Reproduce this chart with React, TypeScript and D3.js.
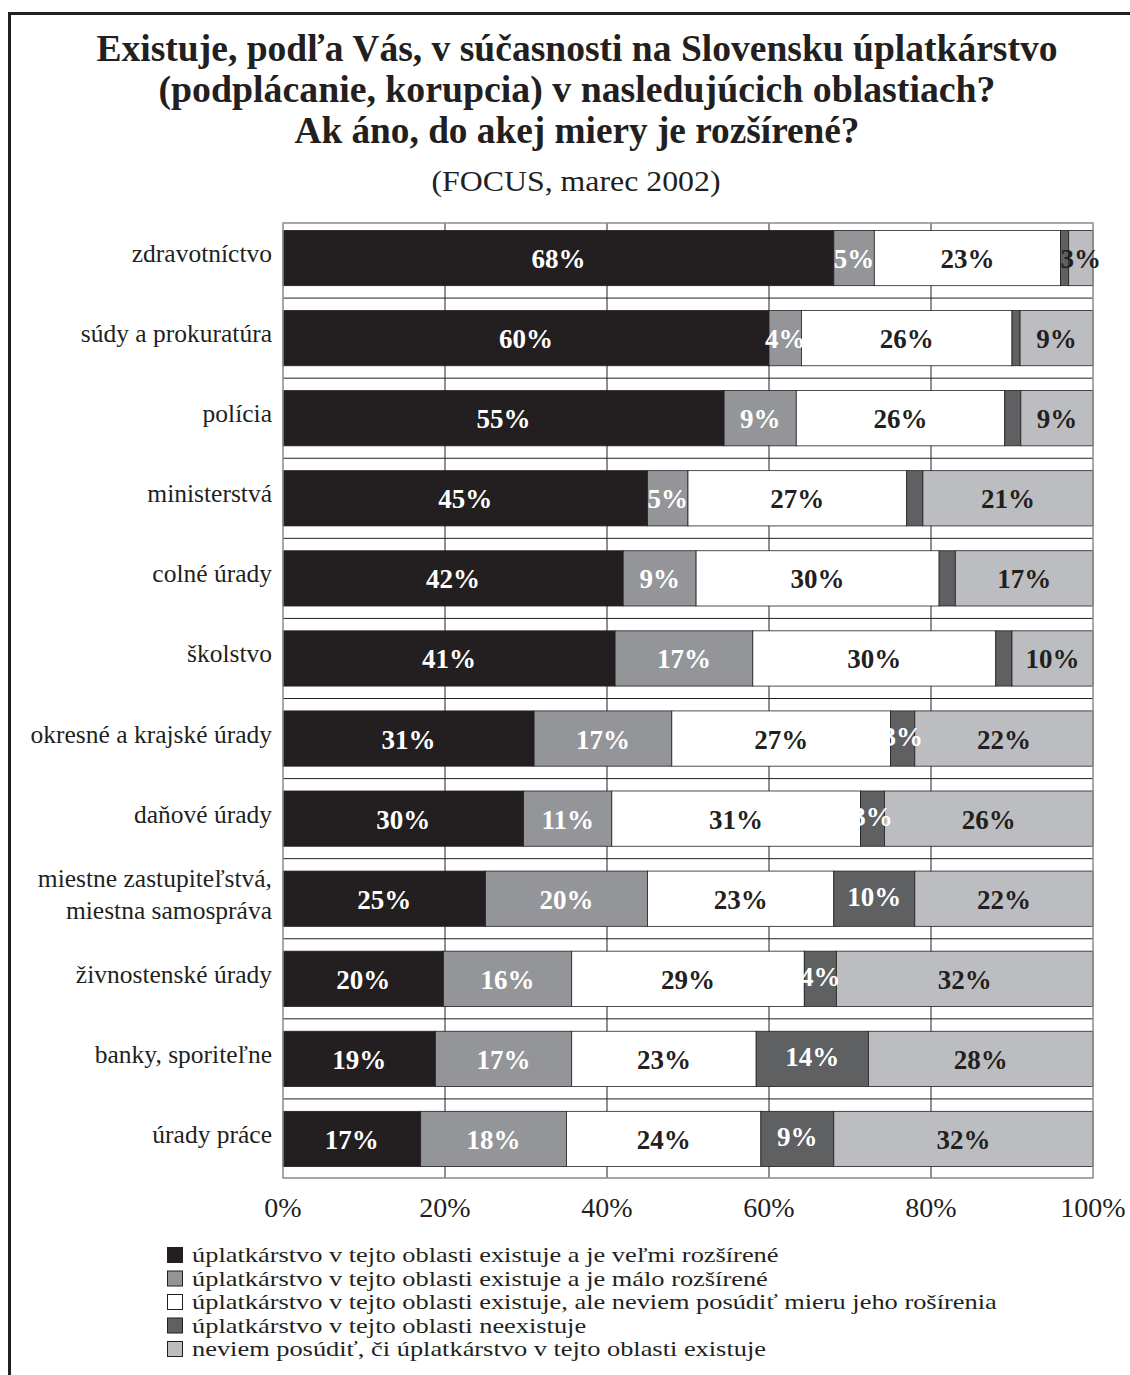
import React from "react";
import * as d3 from "d3";

const titleLines = [
  "Existuje, podľa Vás, v súčasnosti na Slovensku úplatkárstvo",
  "(podplácanie, korupcia) v nasledujúcich oblastiach?",
  "Ak áno, do akej miery je rozšírené?",
];
const subtitle = "(FOCUS, marec 2002)";

const categories = [
  "zdravotníctvo",
  "súdy a prokuratúra",
  "polícia",
  "ministerstvá",
  "colné úrady",
  "školstvo",
  "okresné a krajské úrady",
  "daňové úrady",
  "miestne zastupiteľstvá,\nmiestna samospráva",
  "živnostenské úrady",
  "banky, sporiteľne",
  "úrady práce",
];

const seriesNames = [
  "úplatkárstvo v tejto oblasti existuje a je veľmi rozšírené",
  "úplatkárstvo v tejto oblasti existuje a je málo rozšírené",
  "úplatkárstvo v tejto oblasti existuje, ale neviem posúdiť mieru jeho rošírenia",
  "úplatkárstvo v tejto oblasti neexistuje",
  "neviem posúdiť, či úplatkárstvo v tejto oblasti existuje",
];

const velmiRozsirene = [68, 60, 55, 45, 42, 41, 31, 30, 25, 20, 19, 17];
const maloRozsirene = [5, 4, 9, 5, 9, 17, 17, 11, 20, 16, 17, 18];
const neviemMieru = [23, 26, 26, 27, 30, 30, 27, 31, 23, 29, 23, 24];
const neexistuje = [1, 1, 2, 2, 2, 2, 3, 3, 10, 4, 14, 9];
const neviemCi = [3, 9, 9, 21, 17, 10, 22, 26, 22, 32, 28, 32];

const seriesValues = [velmiRozsirene, maloRozsirene, neviemMieru, neexistuje, neviemCi];

const fills = ["#231f20", "#939598", "#ffffff", "#5f6062", "#bcbdc0"];
const labelFills = ["#ffffff", "#ffffff", "#231f20", "#ffffff", "#231f20"];

const tickValues = [0, 20, 40, 60, 80, 100];

const serif = "'Liberation Serif', 'Times New Roman', Times, serif";
const ink = "#231f20";

export default function App() {
  const W = 1130;
  const H = 1375;
  const L = 283;
  const R = 1093;
  const T = 223;
  const B = 1178;

  const x = d3.scaleLinear().domain([0, 1]).range([L, R]);
  const y = d3
    .scaleBand<string>()
    .domain(categories)
    .range([218, 1179])
    .paddingInner(0.31)
    .paddingOuter(0.155);

  const keys = seriesValues.map((_, j) => "s" + j);
  const rows = categories.map((c, i) => {
    const o: any = { cat: c };
    seriesValues.forEach((s, j) => (o["s" + j] = s[i]));
    return o;
  });
  const stacked = d3.stack<any>().keys(keys).offset(d3.stackOffsetExpand)(rows);

  const step = y.step();
  const gridY = d3.range(1, categories.length).map((k) => 218 + k * step);

  const titleWidths = [961, 837, 565];
  const titleBase = [61, 102, 143];

  return (
    <svg
      width={W}
      height={H}
      viewBox={`0 0 ${W} ${H}`}
      style={{ position: "absolute", left: 0, top: 0, background: "#fff" }}
      fontFamily={serif}
    >
      <rect x={0} y={0} width={W} height={H} fill="#fff" />
      <rect x={9.5} y={13.5} width={1300} height={1500} fill="none" stroke={ink} strokeWidth={3} />

      {titleLines.map((t, i) => (
        <text
          key={i}
          x={577}
          y={titleBase[i]}
          textAnchor="middle"
          fontWeight="bold"
          fontSize={37}
          fill={ink}
          textLength={titleWidths[i]}
          lengthAdjust="spacingAndGlyphs"
        >
          {t}
        </text>
      ))}
      <text x={576} y={191} textAnchor="middle" fontSize={30} fill={ink} textLength={289} lengthAdjust="spacingAndGlyphs">
        {subtitle}
      </text>

      {/* gridlines */}
      {tickValues.slice(1, -1).map((t) => (
        <line key={"v" + t} x1={x(t / 100)} x2={x(t / 100)} y1={T} y2={B} stroke={ink} strokeWidth={1} />
      ))}
      {gridY.map((gy, k) => (
        <line key={"h" + k} x1={L} x2={R} y1={gy} y2={gy} stroke={ink} strokeWidth={1} />
      ))}

      {/* bars */}
      {stacked.map((layer, j) => (
        <g key={layer.key}>
          {layer.map((d, i) => (
            <rect
              key={i}
              x={x(d[0])}
              y={y(categories[i])}
              width={x(d[1]) - x(d[0])}
              height={y.bandwidth()}
              fill={fills[j]}
              stroke={ink}
              strokeWidth={0.8}
            />
          ))}
        </g>
      ))}

      {/* plot border */}
      <rect x={L} y={T} width={R - L} height={B - T} fill="none" stroke="#8a8b8d" strokeWidth={1.5} />

      {/* data labels */}
      {stacked.map((layer, j) => (
        <g key={"l" + layer.key}>
          {layer.map((d, i) => {
            const v = seriesValues[j][i];
            if (v < 3) return null;
            const cx = (x(d[0]) + x(d[1])) / 2;
            const cy = (y(categories[i]) as number) + y.bandwidth() / 2;
            return (
              <text
                key={i}
                x={cx}
                y={cy + (j === 3 ? 7 : 10)}
                textAnchor="middle"
                fontWeight="bold"
                fontSize={27}
                fill={labelFills[j]}
              >
                {v}%
              </text>
            );
          })}
        </g>
      ))}

      {/* category labels */}
      {categories.map((c, i) => {
        const lines = c.split("\n");
        const cy = (y(c) as number) + y.bandwidth() / 2 + 4;
        return (
          <text key={c} x={272} textAnchor="end" fontSize={25.5} fill={ink}>
            {lines.map((ln, k) => (
              <tspan key={k} x={272} y={cy + (k - (lines.length - 1) / 2) * 32}>
                {ln}
              </tspan>
            ))}
          </text>
        );
      })}

      {/* x axis tick labels */}
      {tickValues.map((t) => (
        <text key={"t" + t} x={x(t / 100)} y={1217} textAnchor="middle" fontSize={28} fill={ink}>
          {t}%
        </text>
      ))}

      {/* legend */}
      {seriesNames.map((n, j) => {
        const cy = 1255 + j * 23.5;
        return (
          <g key={"lg" + j}>
            <rect x={167.5} y={cy - 7.5} width={15} height={15} fill={fills[j]} stroke={ink} strokeWidth={1} />
            <g transform={`translate(192, ${cy + 7}) scale(1.2, 1)`}>
              <text x={0} y={0} fontSize={22} fill={ink}>
                {n}
              </text>
            </g>
          </g>
        );
      })}
    </svg>
  );
}
